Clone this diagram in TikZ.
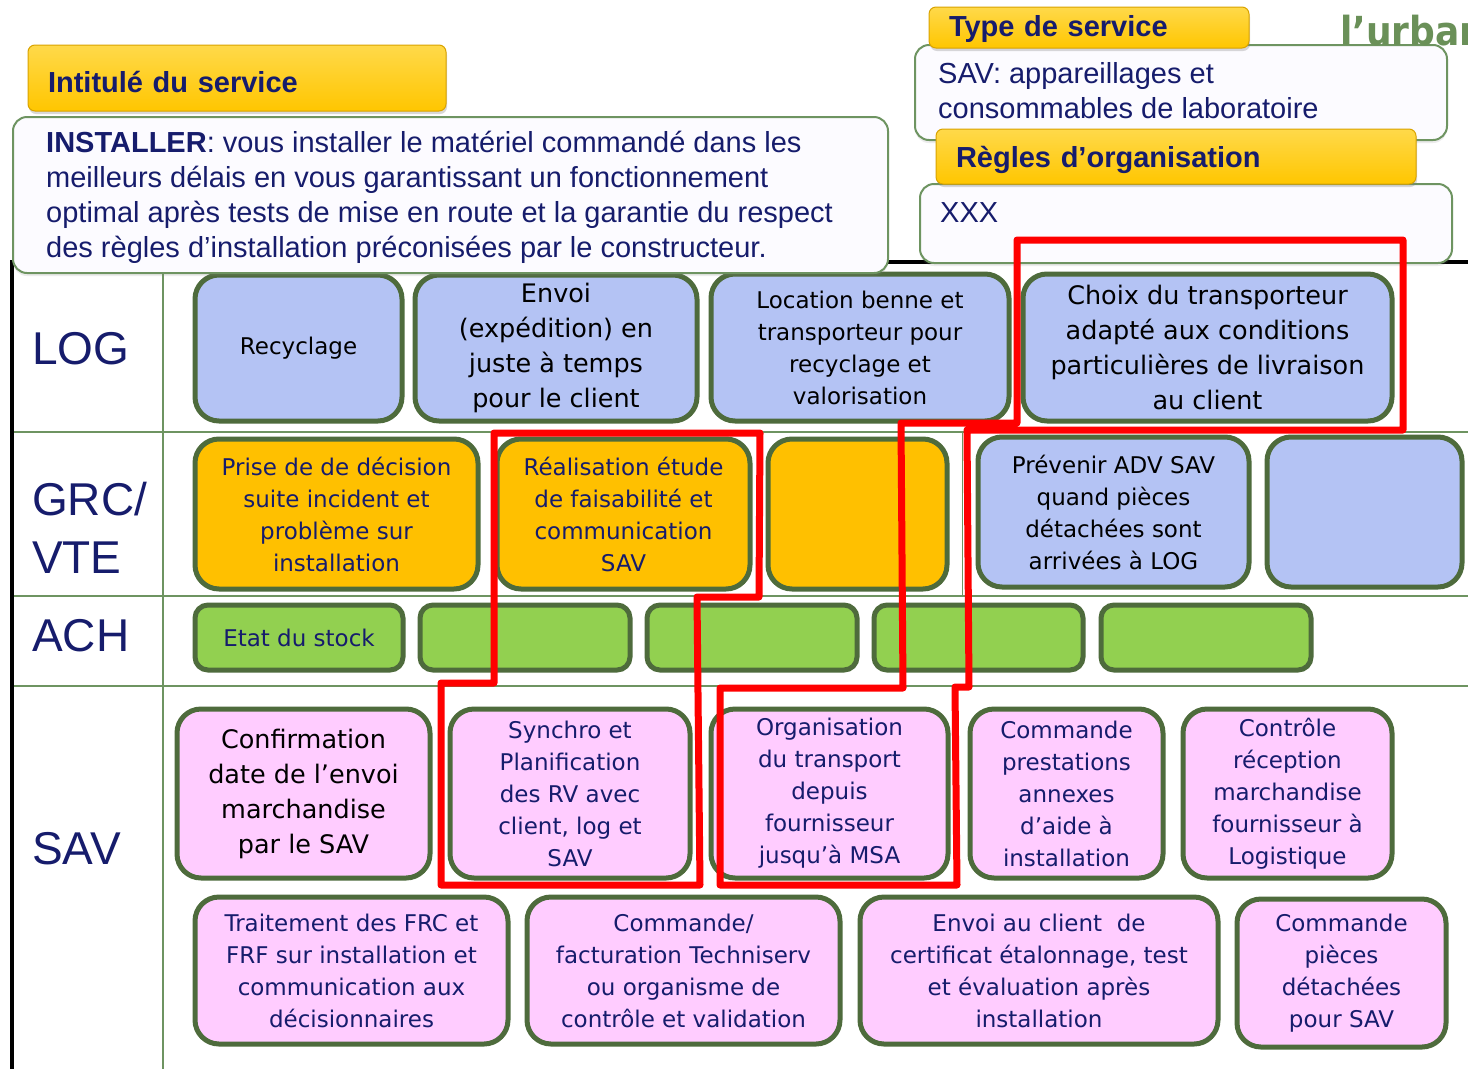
\documentclass[tikz,border=0pt]{standalone}
\usepackage{fontspec}
\setmainfont{Liberation Sans}
\newfontfamily\bxf{DejaVu Sans}
\newfontfamily\urbf[FakeStretch=0.9]{DejaVu Sans}
\usetikzlibrary{shadows}

\definecolor{navy}{HTML}{161C6C}
\definecolor{hdrgold}{HTML}{FFC600}
\definecolor{hdrgoldtop}{HTML}{FFD94A}
\definecolor{hdredge}{HTML}{D9A300}
\definecolor{wbox}{HTML}{FCFBFF}
\definecolor{wedge}{HTML}{6E9461}
\definecolor{gridg}{HTML}{6E9461}
\definecolor{bedge}{HTML}{4E6B3C}
\definecolor{bblue}{HTML}{B4C3F4}
\definecolor{borange}{HTML}{FFC000}
\definecolor{bgreen}{HTML}{92D050}
\definecolor{bpink}{HTML}{FFCCFF}
\definecolor{urbg}{HTML}{6A9058}
\definecolor{redline}{HTML}{FF0000}

% name, x1, y1, x2, y2, style, text
\newcommand\bx[7]{\node[#6, minimum width={(#4-#2-4)*1pt}, minimum height={(#5-#3-4)*1pt}] (#1) at ({(#2+#4)/2},{(#3+#5)/2}) {#7};}

\begin{document}
\begin{tikzpicture}[x=1pt,y=-1pt,
  hdr/.style={draw=hdredge, line width=1pt, rounded corners=7pt, top color=hdrgoldtop, bottom color=hdrgold,
    inner ysep=0pt, align=left, text depth=0pt, font=\fontsize{29}{35}\selectfont\bfseries, text=navy,
    drop shadow={shadow xshift=1pt, shadow yshift=-3pt, opacity=0.3}},
  wb/.style={draw=wedge, line width=2pt, fill=wbox, rounded corners=14pt, inner sep=0pt,
    drop shadow={shadow xshift=0pt, shadow yshift=-3pt, opacity=0.15}},
  wtxt/.style={font=\fontsize{29}{35}\selectfont, text=navy, align=left, inner sep=0pt, anchor=base west},
  lbl/.style={font=\fontsize{46}{58}\selectfont, text=navy, align=left, inner sep=0pt, anchor=base west},
  gridline/.style={draw=gridg, line width=1.6pt},
  proc/.style={draw=bedge, line width=5pt, rounded corners=24pt, align=center, inner sep=0pt,
    font=\bxf\fontsize{23}{32}\selectfont},
  bigt/.style={font=\bxf\fontsize{25.5}{35}\selectfont},
  logbox/.style={proc, fill=bblue, text=black},
  grcbox/.style={proc, fill=borange, text=navy},
  achbox/.style={proc, fill=bgreen, text=navy, rounded corners=13pt},
  savbox/.style={proc, fill=bpink, text=navy},
  redpath/.style={draw=redline, line width=7pt, line join=round}
]
\useasboundingbox (0,0) rectangle (1468,1069);
\clip (0,0) rectangle (1468,1069);
\fill[white] (0,0) rectangle (1468,1069);

% ---- grid ----
\draw[gridline] (12,432) -- (1468,432);
\draw[gridline] (12,596) -- (1468,596);
\draw[gridline] (12,686) -- (1468,686);
\draw[gridline] (163,262) -- (163,1069);
\draw[draw=gridg, line width=1pt] (962,432) -- (962,596);
\draw[black, line width=4pt] (10,262) -- (1468,262);
\draw[black, line width=4.5pt] (12,262) -- (12,1069);

% ---- row labels (base = last line) ----
\node[lbl] (lLOG) at (32,364) {LOG};
\node[lbl] (lGRC) at (32,573) {GRC/\\VTE};
\node[lbl] (lACH) at (32,651) {ACH};
\node[lbl] (lSAV) at (32,864) {SAV};

% ---- LOG row ----
\bx{L1}{193}{273}{404}{423}{logbox}{Recyclage}
\bx{L2}{413}{273}{699}{423}{logbox,bigt}{Envoi\\(expédition) en\\juste à temps\\pour le client}
\bx{L3}{709}{272}{1011}{423}{logbox}{Location benne et\\transporteur pour\\recyclage et\\valorisation}
\bx{L4}{1021}{272}{1394}{423}{logbox,bigt}{Choix du transporteur\\adapté aux conditions\\particulières de livraison\\au client}

% ---- GRC/VTE row ----
\bx{G1}{193}{437}{480}{591}{grcbox}{Prise de de décision\\suite incident et\\problème sur\\installation}
\bx{G2}{495}{437}{752}{591}{grcbox}{Réalisation étude\\de faisabilité et\\communication\\SAV}
\bx{G3}{766}{437}{949}{591}{grcbox}{}
\bx{G4}{976}{435}{1251}{589}{logbox}{Prévenir ADV SAV\\quand pièces\\détachées sont\\arrivées à LOG}
\bx{G5}{1265}{435}{1464}{589}{logbox}{}

% ---- ACH row ----
\bx{A1}{193}{603}{405}{672}{achbox}{Etat du stock}
\bx{A2}{418}{603}{632}{672}{achbox}{}
\bx{A3}{645}{603}{859}{672}{achbox}{}
\bx{A4}{872}{603}{1085}{672}{achbox}{}
\bx{A5}{1099}{603}{1313}{672}{achbox}{}

% ---- SAV row ----
\bx{S1}{175}{707}{432}{880}{savbox,bigt,text=black}{Confirmation\\date de l’envoi\\marchandise\\par le SAV}
\bx{S2}{448}{707}{692}{880}{savbox}{Synchro et\\Planification\\des RV avec\\client, log et\\SAV}
\bx{S3}{709}{707}{950}{880}{savbox}{Organisation\\du transport\\depuis\\fournisseur\\jusqu’à MSA}
\bx{S4}{968}{707}{1165}{880}{savbox}{Commande\\prestations\\annexes\\d’aide à\\installation}
\bx{S5}{1181}{707}{1394}{880}{savbox}{Contrôle\\réception\\marchandise\\fournisseur à\\Logistique}
\bx{T1}{193}{895}{510}{1046}{savbox}{Traitement des FRC et\\FRF sur installation et\\communication aux\\décisionnaires}
\bx{T2}{525}{895}{842}{1046}{savbox}{Commande/\\facturation Techniserv\\ou organisme de\\contrôle et validation}
\bx{T3}{858}{895}{1220}{1046}{savbox}{Envoi au client~ de\\certificat étalonnage, test\\et évaluation après\\installation}
\bx{T4}{1235}{897}{1448}{1049}{savbox}{Commande\\pièces\\détachées\\pour SAV}

% ---- header panels ----
\bx{wMain}{11}{115}{890}{275}{wb}{}
\node[wtxt] (tMain) at (46,257) {\textbf{INSTALLER}: vous installer le matériel commandé dans les\\meilleurs délais en vous garantissant un fonctionnement\\optimal après tests de mise en route et la garantie du respect\\des règles d’installation préconisées par le constructeur.};
\bx{hInt}{26}{43}{448}{113}{hdr, text height=28pt, inner xsep=20pt, text width=378pt}{Intitulé du service}

\bx{wType}{913}{43}{1449}{142}{wb}{}
\node[wtxt] (tType) at (938,118) {SAV: appareillages et\\consommables de laboratoire};
\node[font=\urbf\bfseries\fontsize{40}{40}\selectfont, text=urbg, anchor=base west, inner sep=0pt] (urb) at (1340,45) {l’urbanisation};
\bx{hType}{927}{5}{1251}{50}{hdr, text height=17pt, inner xsep=20pt, text width=280pt}{Type de service}

\bx{wRegl}{918}{182}{1454}{265}{wb}{}
\node[wtxt] (tRegl) at (940,222) {XXX};
\bx{hRegl}{934}{127}{1418}{186}{hdr, text height=22pt, inner xsep=20pt, text width=440pt}{Règles d’organisation}

% ---- red outlines ----
\draw[redpath] (1017,240) -- (1403,240) -- (1403,430) -- (967,430) -- (969,687) -- (955,687)
  -- (957,885) -- (720,885) -- (720,688) -- (903,688) -- (901,423) -- (1017,423) -- cycle;
\draw[redpath] (494,433) -- (760,433) -- (759,597) -- (697,597) -- (700,885) -- (441,885)
  -- (441,683) -- (494,683) -- cycle;
\end{tikzpicture}
\end{document}
